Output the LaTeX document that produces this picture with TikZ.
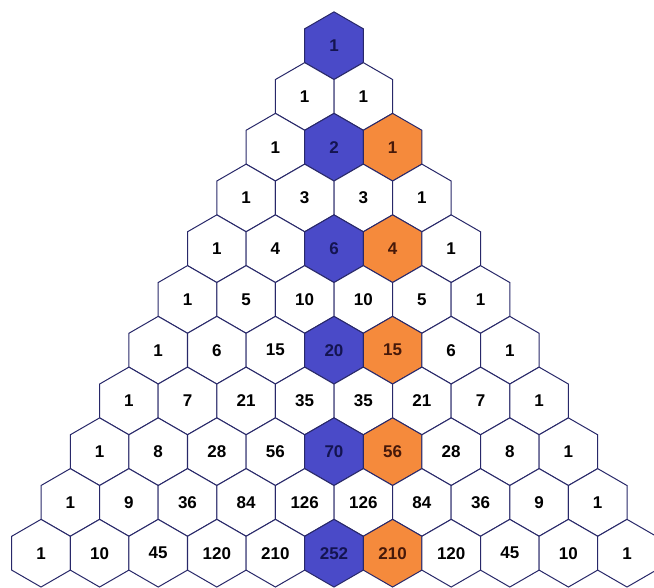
\documentclass[tikz,border=0pt]{standalone}
\usepackage{fontspec}
\setmainfont{Liberation Sans}
\usetikzlibrary{shapes.geometric}

\definecolor{hexline}{RGB}{40,40,105}
\definecolor{hexblue}{RGB}{74,74,200}
\definecolor{hexorange}{RGB}{245,138,60}
\definecolor{bluetext}{RGB}{20,20,80}
\definecolor{orangetext}{RGB}{70,25,10}

\begin{document}
\begin{tikzpicture}[x=1pt, y=1pt,
    every node/.style={font=\fontsize{17}{17}\selectfont\bfseries},
    hexcell/.style={regular polygon, regular polygon sides=6, shape border rotate=30,
      minimum size=67.66pt, inner sep=0pt, draw=hexline, line width=1pt}]
	\useasboundingbox (0,0) rectangle (654,587);
	% Pascal rows 0..10
	\foreach \row [count=\n from 0] in {{1},{1,1},{1,2,1},{1,3,3,1},{1,4,6,4,1},
	    {1,5,10,10,5,1},{1,6,15,20,15,6,1},{1,7,21,35,35,21,7,1},
	    {1,8,28,56,70,56,28,8,1},{1,9,36,84,126,126,84,36,9,1},
	    {1,10,45,120,210,252,210,120,45,10,1}} {
		\foreach \val [count=\k from 0] in \row {
			\pgfmathtruncatemacro\d{2*\k-\n}
			\def\hexfill{white}\def\hextext{black}
			\ifnum\d=0 \def\hexfill{hexblue}\def\hextext{bluetext}\fi
			\ifnum\d=2 \def\hexfill{hexorange}\def\hextext{orangetext}\fi
			\node[hexcell, fill=\hexfill, text=\hextext] (h-\n-\k)
			  at ({334+29.3*\d}, {541.3-50.75*\n}) {\val};
		}
	}
\end{tikzpicture}
\end{document}
